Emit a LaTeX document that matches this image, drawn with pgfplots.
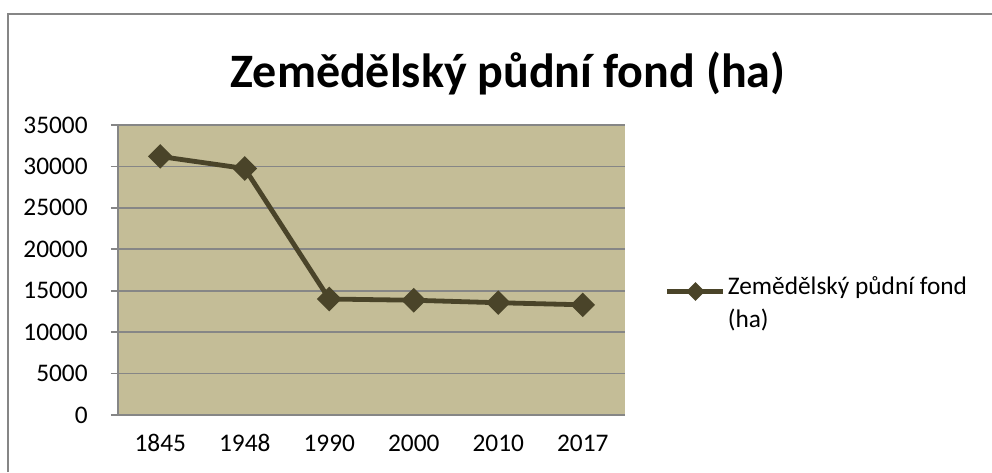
\documentclass[border=0pt]{standalone}
\usepackage{pgfplots}
\pgfplotsset{compat=1.18}
\usepackage{fontspec}
\setmainfont{Carlito}

\definecolor{plotbg}{HTML}{C4BD97}
\definecolor{serie}{HTML}{4A4429}
\definecolor{osa}{HTML}{868686}

\begin{document}
\begin{tikzpicture}[x=0.75pt,y=0.75pt]
\path[use as bounding box] (0,0) rectangle (992,472);
\draw[osa, line width=1.3pt] (8,0) -- (8,458) -- (992,458);
\node[font=\bfseries\fontsize{36}{42}\selectfont, anchor=base] at (508,384) {Zemědělský půdní fond (ha)};
\begin{axis}[
    at={(88.5pt,42.75pt)}, anchor=south west,
    width=380.25pt, height=217.5pt,
    scale only axis,
    xmin=-0.5, xmax=5.5,
    ymin=0, ymax=35000,
    xtick={0,1,2,3,4,5},
    xticklabels={\mbox{1845},\mbox{1948},\mbox{1990},\mbox{2000},\mbox{2010},\mbox{2017}},
    minor xtick={-0.5,0.5,1.5,2.5,3.5,4.5,5.5},
    ytick={0,5000,10000,15000,20000,25000,30000,35000},
    scaled y ticks=false,
    /pgf/number format/assume math mode=true,
    /pgf/number format/set thousands separator={},
    tick label style={font=\fontsize{19}{23}\selectfont, black},
    axis x line*=bottom, axis y line*=left,
    axis line style={osa, line width=1.2pt, -},
    tick style={osa, line width=1.2pt},
    tick align=outside,
    major tick length=5.25pt, minor tick length=5.25pt,
    xtick style={draw=none},
    minor x tick style={osa, line width=1.2pt},
    ymajorgrids,
    grid style={osa, line width=1.2pt},
    axis background/.style={fill=plotbg},
    yticklabel style={anchor=east, xshift=-14pt},
    xticklabel style={anchor=base, yshift=-22pt},
    legend style={at={(1.079,0.505)}, anchor=north west, draw=none, fill=none,
        font=\fontsize{19}{25}\selectfont, inner sep=0pt, outer sep=0pt,
        nodes={anchor=base west, inner xsep=1.5pt}},
    legend image code/.code={\draw[yshift=0.23em, mark size=3.2pt, mark repeat=2, mark phase=2] plot coordinates {(0pt,0pt) (21pt,0pt) (42pt,0pt)};},
]
\addplot[serie, line width=3.6pt, mark=square*, mark size=4.7pt, mark options={rotate=45, solid, fill=serie}]
    coordinates {(0,31200) (1,29750) (2,14000) (3,13850) (4,13550) (5,13300)};
\addlegendentry{\begin{tabular}[t]{@{}l@{}}Zemědělský půdní fond\\(ha)\end{tabular}}
\end{axis}
\end{tikzpicture}
\end{document}
